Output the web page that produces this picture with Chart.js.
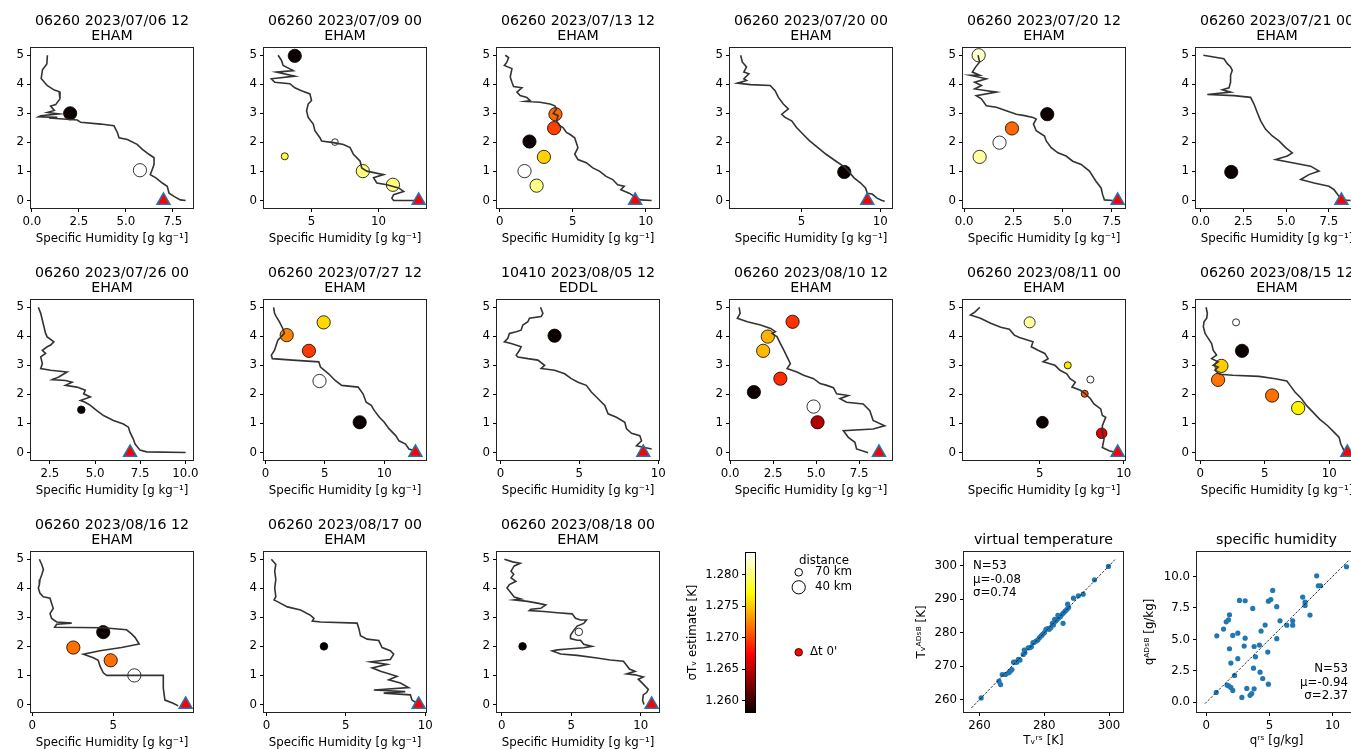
<!DOCTYPE html>
<html>
<head>
<meta charset="utf-8">
<script src="https://cdn.jsdelivr.net/npm/chart.js@4.4.0/dist/chart.umd.min.js"></script>
<style>
  html, body { margin: 0; padding: 0; background: #fff; width: 1351px; height: 749px; overflow: hidden; position: relative; }
  canvas { position: absolute; }
</style>
</head>
<body>
<script>
// --- Data ---
const sounding = ['06260 2023/07/06 12', '06260 2023/07/09 00', '06260 2023/07/13 12', '06260 2023/07/20 00',
  '06260 2023/07/20 12', '06260 2023/07/21 00', '06260 2023/07/26 00', '06260 2023/07/27 12', '10410 2023/08/05 12',
  '06260 2023/08/10 12', '06260 2023/08/11 00', '06260 2023/08/15 12', '06260 2023/08/16 12', '06260 2023/08/17 00',
  '06260 2023/08/18 00'];
const airport = ['EHAM', 'EHAM', 'EHAM', 'EHAM', 'EHAM', 'EHAM', 'EHAM', 'EHAM', 'EDDL', 'EHAM', 'EHAM', 'EHAM', 'EHAM', 'EHAM', 'EHAM'];

const yTicks = [0, 1, 2, 3, 4, 5];
const xTicks = [[0, 2.5, 5, 7.5], [5, 10], [0, 5, 10], [5, 10], [0, 2.5, 5, 7.5], [0, 2.5, 5, 7.5], [2.5, 5, 7.5, 10],
  [0, 5, 10], [0, 5, 10], [0, 2.5, 5, 7.5], [5, 10], [0, 5, 10], [0, 5], [0, 5, 10], [0, 5, 10]];

// radiosonde profiles: specific humidity [g/kg] and altitude [km]
const profileQ = [
  [0.83,0.8,0.57,0.5,0.83,1.2,1.45,1.5,1.27,1.0,1.2,0.83,1.45,0.48,0.35,1.36,0.92,2.42,2.6,3.66,4.37,4.55,4.64,5.08,5.6,5.88,6.23,6.5,6.5,6.4,6.3,6.6,6.94,7.2,7.3,7.56,7.9,8.18],
  [2.5,2.75,2.88,3.63,2.38,3.75,2.0,2.25,3.38,3.75,4.25,4.88,5.0,4.75,4.63,4.75,5.13,5.25,5.63,5.75,6.63,7.38,7.88,8.13,8.63,8.75,9.13,10.38,9.63,9.88,10.63,11.5,11.88,11.13,11.0,11.13,13.0],
  [0.38,0.61,0.5,0.32,0.84,0.72,0.84,0.95,1.52,1.18,1.4,1.86,2.08,1.74,2.76,3.44,3.78,3.89,3.67,4.0,3.89,4.12,4.34,4.57,4.8,5.14,5.25,5.36,5.14,5.36,5.93,6.38,6.83,7.29,7.74,8.08,8.53,8.3,8.87,9.21,9.66,10.41],
  [1.15,1.25,1.52,1.35,1.67,1.35,1.52,0.94,1.77,3.02,3.33,3.54,3.85,4.17,3.75,3.96,4.38,4.69,5.1,5.52,6.04,6.56,7.19,7.81,8.33,8.75,9.06,9.17,9.48,9.79,10.1,10.27],
  [0.71,0.79,0.59,0.42,0.79,0.32,1.13,0.54,0.88,0.54,1.64,0.62,0.88,1.13,1.64,2.14,2.65,3.07,3.49,3.66,3.52,3.66,4.08,4.17,4.42,4.76,5.18,5.51,5.94,6.36,6.69,6.95,7.03,7.12,7.54],
  [0.16,1.36,1.56,1.75,1.85,1.75,1.75,1.66,1.27,1.75,0.39,1.95,2.92,3.12,3.31,3.51,3.8,4.19,4.58,4.97,5.36,5.07,4.39,5.36,6.43,6.92,6.33,5.85,6.63,7.5,7.8,8.09,8.19,8.77],
  [1.86,1.99,2.08,2.17,2.26,2.35,2.72,2.54,2.35,2.08,2.26,1.99,2.08,1.99,2.54,3.45,2.99,2.63,3.36,3.73,3.36,4.0,4.46,4.37,4.74,4.19,4.46,4.74,5.1,5.47,6.02,6.57,6.85,6.94,7.12,7.22,7.49,7.86,10.02],
  [0.69,0.77,0.91,1.18,1.46,1.6,1.32,1.05,0.91,0.77,0.5,0.58,2.29,4.49,4.63,5.32,5.87,6.42,7.8,8.21,8.48,8.9,9.17,9.59,10.0,10.41,10.96,11.24,11.79,12.07,12.89],
  [2.54,2.69,2.58,1.84,1.74,1.42,1.31,1.0,0.57,0.47,0.25,0.68,1.31,1.21,1.0,1.1,1.74,2.37,2.8,2.58,3.43,4.07,4.49,4.92,5.44,5.76,6.19,6.61,6.82,7.35,7.88,7.99,8.31,8.83,8.94,8.62,9.58],
  [0.52,0.58,0.42,1.0,1.77,2.35,2.63,2.44,2.73,2.92,3.12,3.31,3.5,3.31,3.88,4.27,4.85,5.23,5.62,6.0,6.19,6.87,6.38,6.77,7.73,8.12,8.31,8.98,8.31,6.58,6.87,7.25,7.35,8.02],
  [1.43,1.17,0.87,1.47,2.08,2.68,3.19,3.49,3.79,4.6,4.5,4.9,5.3,5.5,5.2,5.91,6.21,6.61,6.81,7.12,6.92,7.42,7.72,8.02,8.23,8.63,8.73,8.93,8.73,8.73,8.83,8.73,9.13,9.54],
  [0.46,0.56,0.51,0.3,0.25,0.38,0.63,0.89,1.01,1.27,0.89,1.39,1.01,1.39,1.14,1.52,2.53,4.56,5.82,6.71,6.96,7.34,7.85,8.23,8.73,9.24,9.87,10.38,10.76,10.89,11.14,11.65],
  [0.43,0.58,0.68,0.58,0.47,0.43,0.37,0.47,0.68,1.09,1.19,1.29,1.09,1.19,1.5,2.43,1.5,1.38,4.38,5.82,6.13,6.34,6.6,5.51,4.18,3.15,3.77,4.07,4.18,4.38,4.59,6.23,8.09,8.09,8.19,8.7,9.01],
  [0.31,0.59,0.52,0.59,0.52,0.59,0.48,0.69,1.32,2.15,2.78,2.99,2.89,3.41,5.71,5.82,5.92,6.34,7.07,7.28,7.8,8.01,7.8,6.55,7.59,6.65,7.18,8.22,7.7,8.43,8.95,6.76,8.74,7.38,9.06,9.16,9.48],
  [0.19,0.79,1.33,0.9,0.67,0.86,0.67,1.02,0.55,0.38,0.67,0.9,1.38,0.9,1.86,2.57,3.17,2.81,2.1,1.98,3.05,4.0,5.07,5.31,5.67,6.1,5.9,5.43,5.19,4.95,4.95,5.43,5.67,5.9,6.5,5.9,4.71,4.0,3.64,4.24,5.43,6.86,7.81,8.76,9.0,9.19,9.6,9.0,9.6,10.19,9.83,10.19,10.55,10.43,10.19,10.14,10.24]
];
const profileZ = [
  [5.0,4.7,4.5,4.2,3.95,3.8,3.75,3.5,3.3,3.25,3.1,3.03,2.98,2.92,2.88,2.86,2.84,2.77,2.69,2.63,2.57,2.34,2.16,2.1,1.93,1.76,1.59,1.47,1.24,1.06,0.89,0.78,0.6,0.49,0.25,0.14,0.02,0.0],
  [5.0,4.83,4.65,4.47,4.42,4.28,4.19,4.07,4.02,3.88,3.78,3.67,3.44,3.32,3.09,2.86,2.63,2.4,2.16,2.05,1.99,1.93,1.82,1.59,1.35,1.12,1.01,0.89,0.78,0.6,0.54,0.43,0.31,0.2,0.08,0.0,0.0],
  [5.0,4.92,4.77,4.65,4.54,4.25,4.07,3.92,3.88,3.73,3.61,3.55,3.44,3.41,3.38,3.32,3.26,3.15,3.0,2.92,2.74,2.57,2.51,2.34,2.28,2.16,1.99,1.82,1.59,1.41,1.3,1.12,1.01,0.83,0.72,0.54,0.49,0.37,0.25,0.14,0.02,0.0],
  [5.0,4.77,4.6,4.42,4.36,4.19,4.13,4.04,3.99,3.96,3.78,3.55,3.32,3.15,2.97,2.86,2.74,2.51,2.28,2.05,1.82,1.59,1.35,1.12,0.78,0.6,0.43,0.25,0.22,0.08,0.0,-0.03],
  [5.0,4.77,4.6,4.42,4.31,4.31,4.19,4.07,3.96,3.84,3.73,3.61,3.5,3.26,3.21,3.09,2.97,2.92,2.86,2.8,2.63,2.4,2.22,2.05,1.82,1.64,1.53,1.35,1.24,1.01,0.66,0.43,0.2,0.02,0.0],
  [5.0,4.88,4.71,4.6,4.48,4.31,4.07,3.88,3.81,3.73,3.65,3.61,3.55,3.32,3.03,2.74,2.45,2.22,2.05,1.82,1.64,1.53,1.41,1.3,1.18,1.01,0.89,0.72,0.6,0.49,0.37,0.14,0.02,0.0],
  [5.0,4.79,4.56,4.33,4.1,3.98,3.81,3.7,3.64,3.52,3.41,3.29,3.06,2.89,2.83,2.77,2.6,2.51,2.48,2.42,2.31,2.25,2.14,2.02,1.91,1.79,1.73,1.62,1.44,1.27,1.1,0.98,0.87,0.69,0.46,0.29,0.08,0.02,0.0],
  [5.0,4.79,4.68,4.5,4.27,4.1,3.98,3.87,3.7,3.52,3.35,3.23,3.18,3.12,2.94,2.71,2.48,2.31,2.25,2.02,1.73,1.62,1.44,1.21,1.04,0.81,0.58,0.4,0.29,0.12,0.02],
  [5.0,4.79,4.68,4.62,4.5,4.39,4.21,4.16,4.1,3.93,3.81,3.75,3.64,3.52,3.35,3.29,3.23,3.18,3.0,2.89,2.83,2.71,2.54,2.42,2.31,2.08,1.85,1.62,1.33,1.21,1.04,0.81,0.66,0.58,0.4,0.23,0.12],
  [5.0,4.79,4.62,4.5,4.39,4.27,4.16,4.1,3.98,3.75,3.52,3.29,3.06,2.89,2.77,2.66,2.54,2.37,2.31,2.23,2.02,1.96,1.85,1.73,1.67,1.44,1.1,0.92,0.81,0.75,0.52,0.35,0.12,-0.01],
  [5.0,4.85,4.73,4.62,4.45,4.31,4.24,4.04,3.96,3.81,3.64,3.52,3.41,3.23,3.12,3.0,2.83,2.71,2.54,2.42,2.25,2.14,2.02,1.85,1.67,1.5,1.27,1.21,0.92,0.69,0.46,0.17,0.06,0.0],
  [5.0,4.79,4.62,4.5,4.33,4.1,3.93,3.75,3.52,3.35,3.23,3.12,3.0,2.94,2.83,2.69,2.66,2.62,2.54,2.46,2.31,2.08,1.85,1.62,1.39,1.15,0.92,0.69,0.52,0.29,0.06,0.0],
  [5.0,4.82,4.65,4.47,4.3,4.12,4.01,3.83,3.71,3.66,3.48,3.31,3.13,2.96,2.84,2.8,2.76,2.66,2.64,2.57,2.43,2.31,2.08,1.96,1.85,1.73,1.61,1.52,1.32,1.09,1.0,1.0,1.0,0.56,0.15,0.04,-0.05],
  [5.0,4.82,4.59,4.3,4.01,3.71,3.6,3.54,3.36,3.25,3.07,2.96,2.87,2.84,2.8,2.61,2.37,2.25,2.2,1.96,1.85,1.73,1.55,1.47,1.38,1.26,1.14,0.97,0.85,0.74,0.58,0.5,0.44,0.39,0.33,0.15,0.04],
  [5.0,4.91,4.86,4.77,4.59,4.48,4.36,4.24,4.13,4.01,3.84,3.7,3.63,3.6,3.55,3.49,3.43,3.31,3.28,3.23,3.2,3.16,3.12,2.97,2.91,2.91,2.79,2.7,2.56,2.38,2.27,2.21,2.21,2.07,2.0,1.95,1.91,1.88,1.84,1.74,1.69,1.6,1.53,1.49,1.34,1.22,1.14,1.05,1.02,0.95,0.87,0.7,0.52,0.41,0.33,0.14,0.0]
];

// ADS-B derived estimates: humidity, altitude, sigma Tv, distance [km]
const obsQ = [[2.04,5.75],[3.75,6.75,3.0,8.83,11.08],[3.82,3.73,2.04,3.03,1.7,2.53],[7.71],[0.74,4.22,2.43,1.8,0.79],[1.79],[4.24],
  [1.79,4.9,3.66,4.55,7.93],[3.43],[3.63,2.19,1.92,2.92,1.38,4.85,5.08],[4.4,6.67,8.02,7.68,5.16,8.69],[2.78,3.24,1.65,1.39,5.57,7.59],
  [4.38,2.53,4.84,6.3],[3.62],[1.5,5.55]];
const obsZ = [[3.0,1.04],[4.98,2.01,1.52,1.01,0.54],[2.97,2.49,2.03,1.5,1.01,0.51],[0.98],[5.0,2.97,2.48,1.99,1.5],[0.98],[1.47],
  [4.04,4.48,3.5,2.46,1.04],[4.02],[4.5,3.99,3.5,2.54,2.08,1.58,1.04],[4.48,3.0,2.51,2.02,1.04,0.66],[4.48,3.5,2.98,2.5,1.96,1.53],
  [2.49,1.96,1.52,1.0],[2.0],[2.0,2.5]];
const obsSigma = [[1.2582,1.2834],[1.2582,1.2834,1.2784,1.2801,1.2801],[1.2713,1.2698,1.2582,1.2753,1.2834,1.2804],[1.2582],
  [1.2821,1.2582,1.2713,1.2834,1.2811],[1.2582],[1.2582],[1.2723,1.2756,1.2695,1.2834,1.2582],[1.2582],
  [1.2693,1.2741,1.2743,1.2690,1.2582,1.2834,1.2645],[1.2809,1.2761,1.2834,1.2708,1.2582,1.2665],
  [1.2834,1.2582,1.2751,1.2718,1.2716,1.2766],[1.2582,1.2716,1.2716,1.2834],[1.2582],[1.2582,1.2834]];
const obsDist = [[40,40],[40,80,75,40,40],[40,40,40,40,40,40],[40],[40,40,40,40,40],[40],[70],[40,40,40,40,40],[40],
  [40,40,40,40,40,40,40],[48,75,75,75,45,50],[75,40,40,40,40,40],[40,40,40,40],[70],[70,70]];

// surface value of each sounding (triangle at 0 km)
const surfaceQ = [7.0, 13.0, 9.28, 9.17, 7.79, 8.23, 6.94, 12.62, 9.05, 8.65, 9.64, 11.39, 9.47, 9.58, 10.79];

// colorbar
const cbMin = 1.2582, cbMax = 1.2834;
const cbTicks = [1.260, 1.265, 1.270, 1.275, 1.280];
const legendDist = [70, 40];

// summary scatter: virtual temperature [K]
const vtRs = [260.5,266.0,266.5,267.0,268.0,269.0,269.5,270.0,270.5,271.5,272.0,272.5,273.5,273.8,274.0,275.0,275.5,276.0,276.5,277.0,277.5,278.0,278.5,279.0,279.5,280.0,280.5,281.0,281.5,282.0,282.5,283.0,283.2,283.5,284.0,284.2,284.5,285.0,285.5,285.8,286.0,286.5,287.0,287.2,287.5,289.0,290.5,292.0,295.5,299.8,279.2,282.8,271.0];
const vtAdsb = [260.5,265.5,264.5,267.5,267.5,268.0,268.5,269.0,271.2,271.2,272.0,271.8,273.5,274.8,274.0,275.5,275.5,275.8,277.0,277.2,277.5,277.8,278.5,279.0,279.5,280.0,281.0,281.2,281.0,281.5,282.8,283.0,284.0,283.5,284.0,285.2,284.5,284.8,285.5,282.8,286.0,286.5,287.0,288.5,287.5,290.3,291.0,291.5,295.8,299.8,279.2,282.3,271.2];
const vtLine = [257.5, 302.0];
const vtStats = ['N=53', 'μ=-0.08', 'σ=0.74'];
const vtXTicks = [260, 280, 300];
const vtYTicks = [260, 270, 280, 290, 300];

// summary scatter: specific humidity [g/kg]
const shRs = [0.79,0.84,1.37,1.58,1.76,1.84,1.84,1.95,1.76,1.95,2.1,2.1,2.24,2.5,2.5,2.63,2.82,3.0,3.08,3.08,3.21,3.47,3.6,3.68,3.79,3.9,3.79,3.74,4.21,4.26,4.34,4.47,4.66,4.87,4.92,4.92,5.11,5.26,5.58,5.58,5.84,6.37,6.84,6.84,7.63,7.82,7.82,8.21,8.74,8.87,9.05,11.1,1.65];
const shAdsb = [0.79,5.29,5.82,6.4,6.56,6.96,4.26,3.12,1.32,1.19,0.95,5.32,2.14,3.47,5.5,8.1,0.4,4.47,5.1,8.07,1.11,0.56,0.71,7.46,4.44,3.62,1.08,2.72,4.55,2.4,5.66,1.9,6.14,4.0,8.04,1.45,8.16,8.89,7.6,5.06,6.48,6.13,6.48,6.13,8.36,7.96,7.7,6.93,10.05,9.26,9.26,10.77,1.38];
const shLine = [-0.1, 11.3];
const shStats = ['N=53', 'μ=-0.94', 'σ=2.37'];
const shXTicks = [0, 5, 10];
const shYTicks = [0, 2.5, 5, 7.5, 10];

// --- Drawing ---
Chart.defaults.font.family = "'DejaVu Sans', sans-serif";
Chart.defaults.font.size = 11.8;
Chart.defaults.color = '#000';
Chart.defaults.animation = false;

const TICK_FONT = {size: 11.8};
const TITLE_FONT = '14.2px "DejaVu Sans"';

// matplotlib "hot" colormap
function hot(v) {
  let t = (v - cbMin) / (cbMax - cbMin);
  t = Math.max(0, Math.min(1, t));
  const r = Math.min(1, 0.0416 + t * (1 - 0.0416) / 0.365079);
  const g = Math.max(0, Math.min(1, (t - 0.365079) / (0.746032 - 0.365079)));
  const b = Math.max(0, Math.min(1, (t - 0.746032) / (1 - 0.746032)));
  return 'rgb(' + Math.round(r * 255) + ',' + Math.round(g * 255) + ',' + Math.round(b * 255) + ')';
}

function addCanvas(left, top, w, h) {
  const c = document.createElement('canvas');
  c.width = w; c.height = h;
  c.style.left = left + 'px';
  c.style.top = top + 'px';
  document.body.appendChild(c);
  return c;
}

function fmtFor(list, forced) {
  const dec = forced !== undefined ? forced : (list.some(v => v % 1 !== 0) ? 1 : 0);
  return v => Number(v).toFixed(dec);
}

// frame + titles + notes
const panelPlugin = {
  id: 'panel',
  afterDraw(chart, args, opts) {
    const {ctx, chartArea: a} = chart;
    ctx.save();
    ctx.strokeStyle = '#222';
    ctx.lineWidth = 1;
    ctx.strokeRect(a.left - 0.5, a.top - 0.5, a.right - a.left + 1, a.bottom - a.top + 1);
    ctx.fillStyle = '#000';
    ctx.textBaseline = 'middle';
    if (opts.title) {
      ctx.font = TITLE_FONT;
      ctx.textAlign = 'center';
      opts.title.forEach((t, k) => ctx.fillText(t, (a.left + a.right) / 2, a.top - opts.titleGap[k]));
    }
    if (opts.notes) {
      ctx.font = '11.8px "DejaVu Sans"';
      ctx.textAlign = opts.notes.align;
      const x = opts.notes.align === 'left' ? a.left + opts.notes.dx : a.right - opts.notes.dx;
      opts.notes.lines.forEach((t, k) => {
        const y = opts.notes.from === 'top' ? a.top + opts.notes.y0 + k * 13.5 : a.bottom - opts.notes.y0 + k * 13.5;
        ctx.fillText(t, x, y);
      });
    }
    ctx.restore();
  }
};

function scaleOpts(ticks, min, max, fitSize, isX, title, titlePad, dec) {
  return {
    type: 'linear', min, max,
    afterBuildTicks: ax => { ax.ticks = ticks.filter(v => v >= min && v <= max).map(v => ({value: v})); },
    afterFit: ax => { if (isX) ax.height = fitSize; else ax.width = fitSize; },
    grid: {drawOnChartArea: false, drawTicks: true, tickLength: 4, color: '#000', lineWidth: 1},
    border: {display: false},
    ticks: {font: TICK_FONT, padding: 3, maxRotation: 0, autoSkip: false, callback: fmtFor(ticks, dec)},
    title: title ? {display: true, text: title, font: TICK_FONT, padding: titlePad} : {display: false}
  };
}

const colLeft = [31, 264, 497, 730, 963, 1196];
const rowTop = [48, 300, 552];
const AX_W = 162, AX_H = 160;

sounding.forEach((name, i) => {
  const row = Math.floor(i / 6), col = i % 6;
  const canvas = addCanvas(colLeft[col] - 40, rowTop[row] - 48, AX_W + 54, AX_H + 90);
  const allQ = profileQ[i].concat(obsQ[i], [surfaceQ[i]]);
  const lo = Math.min(...allQ), hi = Math.max(...allQ), pad = 0.05 * (hi - lo);
  new Chart(canvas, {
    type: 'scatter',
    data: {
      datasets: [
        {
          data: [{x: surfaceQ[i], y: 0}],
          pointStyle: 'triangle', pointRadius: 7.5,
          pointBackgroundColor: '#ff0000', pointBorderColor: '#1f77b4', pointBorderWidth: 1.5
        },
        {
          data: profileQ[i].map((q, k) => ({x: q, y: profileZ[i][k]})),
          showLine: true, borderColor: '#333', borderWidth: 1.6, pointRadius: 0
        },
        {
          data: obsQ[i].map((q, k) => ({x: q, y: obsZ[i][k]})),
          pointRadius: obsDist[i].map(d => 265 / d),
          pointBackgroundColor: obsSigma[i].map(hot),
          pointBorderColor: '#000', pointBorderWidth: 0.8
        }
      ]
    },
    options: {
      responsive: false, maintainAspectRatio: false, devicePixelRatio: 1, events: [],
      layout: {padding: {top: 48, right: 14, left: 0, bottom: 0}},
      plugins: {
        legend: {display: false}, tooltip: {enabled: false},
        panel: {title: [name, airport[i]], titleGap: [27, 12]}
      },
      scales: {
        x: scaleOpts(xTicks[i], lo - pad, hi + pad, 42, true, 'Specific Humidity [g kg⁻¹]', {top: 0, bottom: 3.6}),
        y: scaleOpts(yTicks, -0.26, 5.25, 40, false)
      }
    },
    plugins: [panelPlugin]
  });
});

// colorbar and size legend
const colorbarPlugin = {
  id: 'colorbar',
  beforeDatasetsDraw(chart) {
    const {ctx, chartArea: a, scales: {y}} = chart;
    ctx.save();
    for (let p = a.top; p < a.bottom; p++) {
      ctx.fillStyle = hot(y.getValueForPixel(p + 0.5));
      ctx.fillRect(a.left, p, a.right - a.left, 1);
    }
    ctx.strokeStyle = '#000';
    ctx.lineWidth = 1;
    ctx.strokeRect(a.left - 0.5, a.top - 0.5, a.right - a.left + 1, a.bottom - a.top + 1);
    ctx.restore();
  },
  afterDraw(chart) {
    const ctx = chart.ctx;
    ctx.save();
    ctx.font = '11.8px "DejaVu Sans"';
    ctx.fillStyle = '#000';
    ctx.textBaseline = 'middle';
    ctx.textAlign = 'center';
    ctx.fillText('distance', 144, 61);
    ctx.textAlign = 'left';
    legendDist.forEach((d, k) => {
      const cy = 72.3 + k * 15;
      ctx.beginPath();
      ctx.arc(118.7, cy, 265 / d, 0, Math.PI * 2);
      ctx.fillStyle = '#fff';
      ctx.fill();
      ctx.strokeStyle = '#000';
      ctx.lineWidth = 1;
      ctx.stroke();
      ctx.fillStyle = '#000';
      ctx.fillText(d + ' km', 135, cy);
    });
    ctx.beginPath();
    ctx.arc(118.7, 152.3, 3.8, 0, Math.PI * 2);
    ctx.fillStyle = '#f00';
    ctx.fill();
    ctx.strokeStyle = '#000';
    ctx.lineWidth = 0.8;
    ctx.stroke();
    ctx.fillStyle = '#000';
    ctx.fillText('Δt 0\'', 130, 152.3);
    ctx.restore();
  }
};

new Chart(addCanvas(680, 500, 220, 249), {
  type: 'scatter',
  data: {datasets: [{data: []}]},
  options: {
    responsive: false, maintainAspectRatio: false, devicePixelRatio: 1, events: [],
    layout: {padding: {top: 53, right: 145, left: 0, bottom: 37}},
    plugins: {legend: {display: false}, tooltip: {enabled: false}},
    scales: {
      x: {display: false, min: 0, max: 1},
      y: Object.assign(scaleOpts(cbTicks, cbMin, cbMax, 66, false, 'σTᵥ estimate [K]', {top: 6}, 3), {position: 'left'})
    }
  },
  plugins: [colorbarPlugin]
});

// summary scatter panels
function summaryChart(left, width, axLeft, xs, ys, line, stats, notes, xt, yt, xr, yr, title, xTitle, yTitle, yTitlePad) {
  return new Chart(addCanvas(left, 500, width, 249), {
    type: 'scatter',
    data: {
      datasets: [
        {
          data: [{x: line[0], y: line[0]}, {x: line[1], y: line[1]}],
          showLine: true, borderColor: '#000', borderWidth: 0.8, borderDash: [2.5, 1.5], pointRadius: 0
        },
        {
          data: xs.map((v, k) => ({x: v, y: ys[k]})),
          pointRadius: 2.6, pointBackgroundColor: '#1f77b4', pointBorderWidth: 0
        }
      ]
    },
    options: {
      responsive: false, maintainAspectRatio: false, devicePixelRatio: 1, events: [],
      layout: {padding: {top: 52, right: width - axLeft - 159, left: 0, bottom: 0}},
      plugins: {
        legend: {display: false}, tooltip: {enabled: false},
        panel: {title: [title], titleGap: [11.3], notes: Object.assign({lines: stats}, notes)}
      },
      scales: {
        x: scaleOpts(xt, xr[0], xr[1], 37, true, xTitle, {top: 0, bottom: 1.2}),
        y: scaleOpts(yt, yr[0], yr[1], axLeft, false, yTitle, {top: yTitlePad})
      }
    },
    plugins: [panelPlugin]
  });
}

summaryChart(900, 240, 64, vtRs, vtAdsb, vtLine, vtStats, {align: 'left', dx: 9, from: 'top', y0: 14},
  vtXTicks, vtYTicks, [255.2, 304.3], [256.3, 304.1], 'virtual temperature', 'Tᵥʳˢ [K]', 'Tᵥᴬᴰˢᴮ [K]', 14.6);
summaryChart(1140, 220, 57, shRs, shAdsb, shLine, shStats, {align: 'right', dx: 8, from: 'bottom', y0: 43},
  shXTicks, shYTicks, [-0.73, 11.85], [-0.76, 11.94], 'specific humidity', 'qʳˢ [g/kg]', 'qᴬᴰˢᴮ [g/kg]', 3);
</script>
</body>
</html>
